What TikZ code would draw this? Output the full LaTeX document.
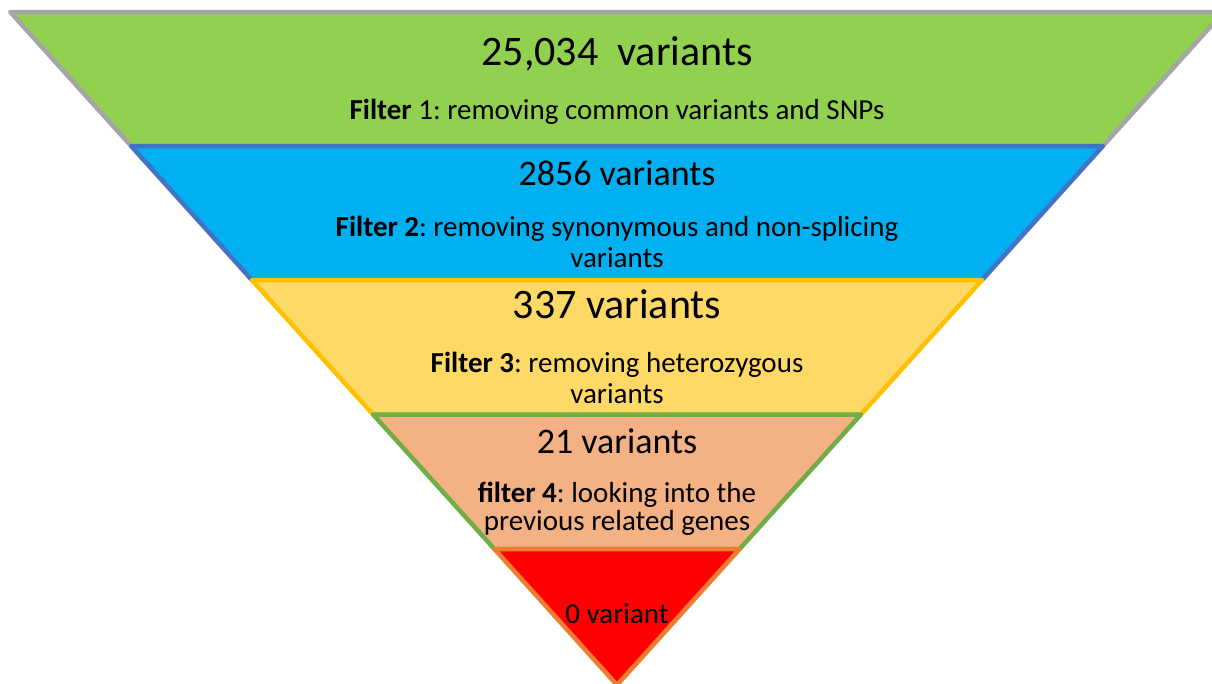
\documentclass[tikz,border=0pt]{standalone}
\usepackage{fontspec}
\setmainfont{Carlito}
\frenchspacing
\begin{document}
\begin{tikzpicture}[x=1pt,y=-1pt,
  band/.style={line width=4.5pt,line join=round},
  big/.style={anchor=base,inner sep=0pt,font=\fontsize{42}{50}\selectfont},
  mid/.style={anchor=base,inner sep=0pt,font=\fontsize{36}{43}\selectfont},
  small/.style={anchor=base,inner sep=0pt,font=\fontsize{29}{35}\selectfont}]
\useasboundingbox (0,0) rectangle (1212,683);
\definecolor{lvA}{HTML}{92D050}\definecolor{edA}{HTML}{A5A5A5}
\definecolor{lvB}{HTML}{00B0F0}\definecolor{edB}{HTML}{4472C4}
\definecolor{lvC}{HTML}{FFD966}\definecolor{edC}{HTML}{FFC000}
\definecolor{lvD}{HTML}{F4B183}\definecolor{edD}{HTML}{70AD47}
\definecolor{lvE}{HTML}{FF0000}\definecolor{edE}{HTML}{ED7D31}
% funnel levels, top to bottom
\draw[band,fill=lvA,draw=edA] (10.3,12) -- (1223.7,12) -- (1102.9,146) -- (131.1,146) -- cycle;
\draw[band,fill=lvB,draw=edB] (131.1,146) -- (1102.9,146) -- (982.1,280) -- (251.9,280) -- cycle;
\draw[band,fill=lvC,draw=edC] (251.9,280) -- (982.1,280) -- (860.9,414.5) -- (373.1,414.5) -- cycle;
\draw[band,fill=lvD,draw=edD] (373.1,414.5) -- (860.9,414.5) -- (739.6,549) -- (494.4,549) -- cycle;
\draw[band,fill=lvE,draw=edE] (494.4,549) -- (739.6,549) -- (617,685) -- cycle;
% labels
\node[big] (t1) at (617,65) {25,034\ \ variants};
\node[small] (s1) at (617,119) {\textbf{Filter} 1: removing common variants and SNPs};
\node[mid] (t2) at (617,185) {2856 variants};
\node[small] (s2a) at (617,236) {\textbf{Filter 2}: removing synonymous and non-splicing};
\node[small] (s2b) at (617,267) {variants};
\node[big] (t3) at (617,318) {337 variants};
\node[small] (s3a) at (617,372) {\textbf{Filter 3}: removing heterozygous};
\node[small] (s3b) at (617,403) {variants};
\node[mid] (t4) at (617,453) {21 variants};
\node[small] (s4a) at (617,502) {\textbf{filter 4}: looking into the};
\node[small] (s4b) at (617,530) {previous related genes};
\node[small] (t5) at (617,623) {0 variant};
\end{tikzpicture}
\end{document}
